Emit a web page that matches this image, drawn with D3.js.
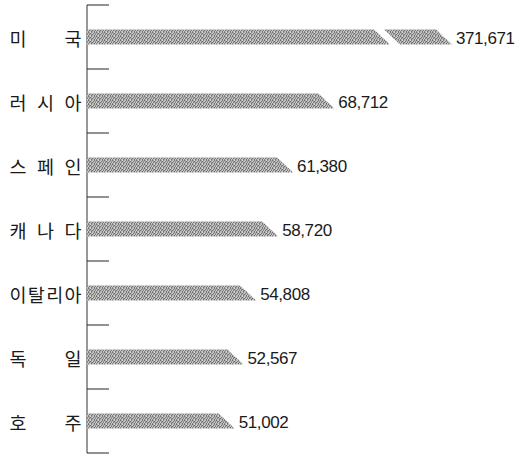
<!DOCTYPE html>
<html>
<head>
<meta charset="utf-8">
<script src="https://cdn.jsdelivr.net/npm/d3@7"></script>
<style>
  body { margin: 0; background: #fff; }
</style>
</head>
<body>
<script>
const countries = ["미국", "러시아", "스페인", "캐나다", "이탈리아", "독일", "호주"];
const values = [371671, 68712, 61380, 58720, 54808, 52567, 51002];
const breakValue = 78600; // bars above this get a broken end

const width = 532, height = 457;
const axisX = 87;
const slant = 16;

const svg = d3.select("body").append("svg")
  .attr("width", width)
  .attr("height", height);

// halftone grey fill like the print
const defs = svg.append("defs");
const pat = defs.append("pattern")
  .attr("id", "tone")
  .attr("patternUnits", "userSpaceOnUse")
  .attr("width", 8)
  .attr("height", 4);
pat.append("rect").attr("width", 8).attr("height", 4).attr("fill", "#b8b8b8");
const dots = [
  [0,0,"#6a6a6a"],[2,0,"#d6d6d6"],[3,0,"#808080"],[5,0,"#c8c8c8"],[6,0,"#777"],
  [1,1,"#8e8e8e"],[2,1,"#6e6e6e"],[4,1,"#d0d0d0"],[5,1,"#727272"],[7,1,"#999"],
  [0,2,"#cfcfcf"],[1,2,"#7a7a7a"],[3,2,"#a0a0a0"],[4,2,"#686868"],[7,2,"#7e7e7e"],
  [0,3,"#888"],[2,3,"#c4c4c4"],[3,3,"#747474"],[6,3,"#6c6c6c"],[7,3,"#d2d2d2"]
];
dots.forEach(([px, py, c]) => pat.append("rect")
  .attr("x", px).attr("y", py).attr("width", 1).attr("height", 1).attr("fill", c));

// scales
const y = d3.scaleBand()
  .domain(countries)
  .range([5, 453])
  .paddingInner(0.766)
  .paddingOuter(0.383);

const x = d3.scaleLinear()
  .domain([24733, 70000])
  .range([axisX, axisX + 0.005624 * (70000 - 24733)]);

// axis line + ticks at band boundaries
svg.append("line")
  .attr("x1", axisX).attr("x2", axisX)
  .attr("y1", 5).attr("y2", 453)
  .attr("stroke", "#333").attr("stroke-width", 1);

const bounds = d3.range(countries.length + 1).map(i => 5 + i * y.step());
svg.selectAll(".tick")
  .data(bounds)
  .enter().append("line")
  .attr("class", "tick")
  .attr("x1", axisX).attr("x2", axisX + 22)
  .attr("y1", d => d).attr("y2", d => d)
  .attr("stroke", "#222").attr("stroke-width", 1);

// bar polygon with slanted right end
function barPoints(x0, x1, top, bottom) {
  return [[x0, top], [x1 - slant, top], [x1, bottom], [x0, bottom]].join(" ");
}

const data = countries.map((c, i) => ({ country: c, value: values[i] }));
const gap = 10, tail = 52;

data.forEach(d => {
  const top = y(d.country);
  const bottom = top + y.bandwidth();
  let end;
  if (d.value > breakValue) {
    const b = x(breakValue);
    svg.append("polygon")
      .attr("points", barPoints(axisX, b, top, bottom))
      .attr("fill", "url(#tone)");
    end = b + gap + tail;
    svg.append("polygon")
      .attr("points", [[b + gap - slant, top], [end - slant, top], [end, bottom], [b + gap, bottom]].join(" "))
      .attr("fill", "url(#tone)");
  } else {
    end = x(d.value);
    svg.append("polygon")
      .attr("points", barPoints(axisX, end, top, bottom))
      .attr("fill", "url(#tone)");
  }
  svg.append("text")
    .attr("x", end + 4)
    .attr("y", top + y.bandwidth() / 2 + 1)
    .attr("dominant-baseline", "central")
    .attr("font-family", "'Liberation Sans', Arial, sans-serif")
    .attr("font-size", 17)
    .attr("letter-spacing", -0.4)
    .attr("fill", "#1a1a1a")
    .text(d3.format(",")(d.value));
});

// justified Korean category labels
countries.forEach(c => {
  const chars = Array.from(c);
  const pos = d3.scalePoint().domain(d3.range(chars.length)).range([18, 73]);
  svg.selectAll(null)
    .data(chars)
    .enter().append("text")
    .attr("x", (ch, i) => pos(i))
    .attr("y", y(c) + y.bandwidth() / 2 + 1)
    .attr("text-anchor", "middle")
    .attr("dominant-baseline", "central")
    .attr("font-family", "'Noto Sans CJK KR', sans-serif")
    .attr("font-size", 18.5)
    .attr("fill", "#1a1a1a")
    .text(ch => ch);
});
</script>
</body>
</html>
